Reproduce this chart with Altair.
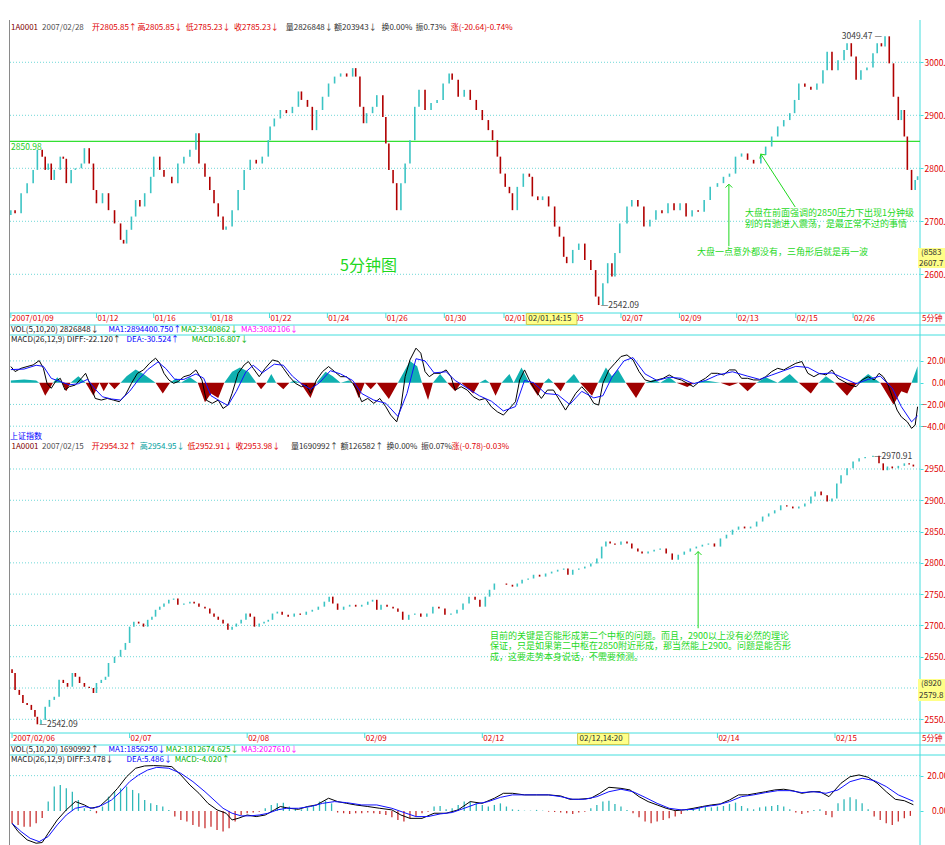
import altair as alt
import pandas as pd

# ================= values =================
# t = time index (left -> right), one common unit for every panel
top_t = [18,25,35,45,55,62,70,75,80,85,90,100,105,110,118,125,135,140,148,155,
         160,170,180,190,200,205,210,218,225,232,240,250,255,265,272,285,295,305,315,325,
         330,340,348,355,362,370,375,385,395,405,415,425,435,445,448,455,465,475,485,495,
         500,510,518,525,535,545,555,565,575,585,590,597,603,608,618,625,635,640,645,652,
         658,665,672,680,688,695,705,715,725,735,745,750,760,770,780,790,800,810,817,825,
         830,838,845,850,858,868,878,883,892,900,910,920,928,935,940,950,960,970,980,988,
         993,1000,1008,1015,1020,1028,1040,1048,1058,1068,1078,1088,1098,1108,1118,1128,1138,1148,1158,1168,
         1178,1190,1200,1210,1220,1230,1240,1250,1262,1270,1280,1290,1300,1310,1318,1325,1335,1345,1355,1365,
         1372,1380,1390,1400,1405,1412,1420,1428,1438,1448,1455,1462,1468,1475,1482,1490,1495,1500,1505,1512,
         1518,1522]
top_close = [2721,2715,2753,2772,2797,2835,2822,2797,2809,2778,2797,2822,2818,2772,2797,2800,2809,2838,2809,2759,
             2734,2753,2721,2696,2665,2658,2684,2709,2740,2728,2753,2784,2822,2797,2784,2772,2809,2822,2835,2866,
             2809,2784,2759,2734,2709,2684,2690,2721,2759,2797,2816,2809,2822,2853,2879,2894,2910,2904,2916,2945,
             2929,2916,2872,2910,2935,2960,2973,2979,2973,2989,2973,2916,2885,2904,2916,2938,2897,2847,2797,2772,
             2721,2772,2809,2853,2916,2948,2910,2923,2929,2960,2979,2967,2935,2948,2929,2910,2891,2872,2853,2822,
             2790,2765,2753,2721,2765,2790,2784,2747,2740,2747,2728,2690,2671,2633,2621,2646,2658,2627,2608,2558,
             2542,2583,2621,2596,2640,2696,2728,2740,2728,2690,2703,2721,2715,2734,2721,2734,2709,2721,2718,2740,
             2765,2772,2784,2790,2822,2828,2816,2809,2825,2841,2860,2879,2891,2904,2929,2960,2954,2948,2960,2985,
             3020,2985,3004,3023,3036,3011,2967,2985,2990,3017,3036,3030,3049,2998,2935,2891,2910,2860,2797,2759,
             2778,2785]
top_first_open = 2712

bot_t = [20,25,32,38,45,52,58,62,68,75,82,90,98,105,112,120,125,132,140,148,
         155,160,168,175,180,190,200,208,215,222,230,238,245,252,258,265,272,280,288,295,
         305,315,322,330,340,348,355,362,370,378,385,392,400,408,415,422,430,438,445,452,
         460,468,478,488,498,508,518,528,538,546,552,560,570,580,590,600,610,618,625,632,
         642,652,660,668,678,688,698,708,718,728,738,748,758,768,778,788,796,805,812,820,
         830,840,850,858,866,876,885,895,905,915,925,935,942,950,960,970,980,990,998,1005,
         1012,1020,1030,1040,1048,1058,1065,1075,1085,1095,1105,1115,1125,1135,1145,1155,1165,1175,1185,1195,
         1205,1215,1225,1235,1245,1255,1265,1275,1285,1295,1305,1315,1325,1335,1345,1352,1362,1372,1380,1388,
         1395,1405,1415,1425,1435,1448,1458,1465,1472,1480,1490,1500,1508,1515]
bot_close = [2624,2597,2589,2576,2573,2565,2554,2542,2549,2570,2581,2586,2613,2608,2602,2624,2618,2608,2602,2600,
             2592,2608,2613,2618,2640,2650,2661,2672,2698,2706,2703,2698,2709,2714,2725,2730,2735,2741,2743,2733,
             2735,2738,2735,2730,2727,2719,2714,2709,2703,2693,2698,2703,2709,2719,2714,2698,2703,2706,2709,2719,
             2722,2717,2714,2719,2717,2722,2725,2730,2738,2746,2735,2725,2730,2733,2730,2733,2738,2741,2725,2733,
             2730,2727,2722,2709,2717,2719,2714,2719,2730,2727,2717,2719,2725,2735,2746,2741,2730,2746,2757,2767,
             2767,2765,2762,2767,2773,2775,2781,2778,2783,2786,2789,2791,2781,2789,2791,2794,2799,2807,2826,2834,
             2831,2829,2834,2831,2823,2818,2815,2818,2821,2823,2815,2805,2813,2818,2823,2826,2829,2831,2826,2839,
             2845,2853,2858,2855,2858,2866,2874,2879,2884,2892,2890,2887,2890,2895,2906,2914,2908,2898,2903,2927,
             2940,2951,2962,2967,2969,2971,2959,2948,2954,2951,2955,2959,2957,2954]
bot_first_open = 2630

m1_diff_t = [18,25,35,45,55,65,72,78,85,92,100,108,115,125,135,142,150,158,168,178,
             188,198,208,218,228,238,248,258,265,272,280,288,295,305,315,325,335,342,352,362,
             370,378,385,395,405,412,420,430,440,452,462,470,480,490,500,508,515,525,535,545,
             555,565,575,585,592,600,610,620,630,640,648,658,665,672,680,690,698,705,712,720,
             730,740,748,755,765,775,785,795,805,815,825,835,845,855,862,870,878,888,898,908,
             918,928,938,945,955,965,975,985,993,1000,1010,1020,1030,1040,1050,1060,1070,1080,1090,1100,
             1110,1120,1130,1140,1150,1160,1170,1180,1190,1200,1210,1220,1230,1240,1250,1260,1270,1280,1290,1300,
             1310,1320,1330,1340,1350,1360,1370,1380,1390,1400,1410,1420,1430,1440,1450,1458,1465,1472,1480,1488,
             1495,1505,1512,1518,1522]
m1_diff = [14.8,10.2,13.2,14.8,16.3,20.3,13.2,-0.6,-5.2,0.9,4,-6.8,-3.7,-2.2,4,8.6,-2.2,-14.5,-16,-14.5,
           -16,-17.5,-11.4,-0.6,8.6,11.7,17.8,22.5,17.8,8.6,2.5,-0.6,0.9,5.5,7.1,11.7,2.5,-16,-19,-16,
           -23.7,-20.6,-9.8,8.6,16.3,19.4,13.2,5.5,13.2,20.9,19.4,13.2,5.5,-0.6,-3.7,-2.2,-9.8,2.5,10.2,14.8,
           10.2,5.5,5.5,-0.6,-6.8,-17.5,-14.5,-19,-14.5,-22.2,-29.8,-36,-22.2,5.5,20.9,31.7,27.1,10.2,5.5,8.6,
           8.6,11.7,5.5,-6.8,-3.7,-6.8,-12.9,-16,-14.5,-22.2,-26.8,-29.8,-23.7,-17.5,2.5,11.7,2.5,-6.8,-14.5,-6.8,
           -6.8,-16,-25.2,-19,-9.8,-3.7,-9.8,-19,-20.6,-0.6,11.7,17.8,24,25.5,20.9,10.2,2.5,0.9,2.5,4,
           7.1,4,2.5,-0.6,-3.7,0.9,4,8.6,8.6,7.1,11.7,11.7,4,4,2.5,2.5,5.5,10.2,13.2,11.7,
           14.8,17.8,19.4,8.6,5.5,8.6,7.1,11.7,4,0.9,-2.2,-3.7,2.5,5.5,2.5,8.6,5.5,-0.6,-12.9,-25.2,
           -31.4,-36,-42,-39,-22.1]
m1_dea_t = [18,40,60,72,85,100,115,130,145,158,170,185,200,215,230,245,262,275,290,305,
            325,338,350,365,378,392,408,420,435,455,470,485,500,515,530,548,565,585,600,620,
            640,660,675,690,705,720,740,755,775,795,815,835,855,870,885,905,925,945,965,985,
            1000,1015,1035,1050,1070,1090,1110,1130,1150,1170,1190,1215,1240,1260,1280,1300,1320,1340,1360,1380,
            1400,1420,1440,1460,1480,1495,1512,1522]
m1_dea = [12,12.5,16,15,4,1,-2,-1,3,-6,-13,-15,-16,-8,3,12,19,13,3,3,
          8,4,-12,-17,-21,-8,10,16,9,17,16,6,-1,-6,0,11,8,2,-10,-16,
          -19,-31,-10,22,20,9,10,2,-5,-12,-17,-26,-22,2,0,-10,-11,-20,-8,-14,
          -12,5,20,23,8,2,5,4,-1,2,7,10,6,3,7,11,15,14,8,9,
          4,-1,3,6,-5,-22,-36,-30.5]
m1_hist_t = [18,40,60,65,75,88,95,103,110,117,130,142,155,165,172,180,190,200,210,225,
             238,258,270,282,292,300,315,328,340,350,362,372,385,398,412,425,433,442,450,458,
             470,480,488,498,515,525,540,552,565,578,585,595,605,615,625,645,660,680,692,700,
             710,718,730,742,755,765,785,795,805,812,822,832,845,852,865,878,892,902,910,918,
             930,938,952,962,982,992,1005,1015,1025,1038,1055,1070,1085,1095,1110,1122,1140,1152,1170,1195,
             1210,1225,1240,1255,1270,1290,1310,1325,1345,1358,1370,1385,1405,1422,1440,1460,1482,1495,1505,1512,
             1522]
m1_hist = [2,3,2,0,-12,0,5,0,-8,0,6,0,-12,0,-8,0,-6,0,6,12,
           8,0,-10,0,4,0,5,0,-18,-10,-14,0,10,14,10,0,-6,0,8,0,
           -6,0,2,0,-14,0,10,6,0,2,0,-14,0,-6,0,-15,0,20,15,0,
           -16,0,8,0,-8,0,-10,0,3,0,-12,0,8,0,14,0,-12,0,4,0,
           -8,0,8,0,-12,0,14,6,12,0,-14,0,3,0,5,0,-4,0,2,0,
           -3,0,-8,0,5,0,8,0,-10,0,6,0,-12,0,8,0,-20,-8,-10,0,
           15]

m2_diff_t = [20,30,45,60,70,80,95,110,125,140,150,165,180,195,210,225,240,255,270,285,
             300,315,330,345,360,375,385,395,410,425,440,455,465,480,495,510,525,545,560,575,
             590,610,630,650,665,680,700,720,740,760,780,800,820,835,850,870,890,910,930,945,
             960,980,995,1010,1030,1045,1060,1075,1090,1105,1120,1135,1150,1165,1180,1195,1210,1225,1240,1255,
             1270,1285,1300,1315,1330,1345,1360,1375,1385,1395,1410,1425,1440,1455,1470,1485,1500,1515]
m2_diff = [-7,-11.7,-16.4,-18.3,-17.9,-12.6,-5.1,0.6,5.3,3.4,1.5,2.5,7.2,12.8,19.4,24.2,25.5,25.7,25.5,25.1,
           20.4,14.7,10,4.3,0.6,-1.3,-5.1,-4.2,-2.3,-3.2,-2.3,0.6,2.5,1.5,0.9,2.5,3.4,7.2,5.3,4.3,
           3.4,2.5,1.5,0.6,-2.3,-4.2,-4.2,-1.3,-1.3,0.6,5.3,4.3,7.2,10,10,9.1,9.1,9.1,8.5,6.6,
           6.6,7.2,10,13.4,12.8,11.9,8.1,5.3,3.4,1.5,0.2,0.6,1.5,2.5,3.4,4,6.2,9.1,9.1,10,
           10.9,11.9,12.3,11.5,10,10.9,10.9,8.1,11.9,15.7,19.4,20.4,19.1,15.7,10.9,6.6,5.8,3.5]
m2_dea_t = [20,35,50,65,80,95,110,125,140,155,170,185,200,215,230,245,260,280,300,320,
            340,355,370,385,400,415,430,445,460,475,495,515,535,555,575,600,625,650,670,690,
            710,730,750,770,790,810,830,850,870,890,910,930,950,970,990,1010,1030,1050,1070,1090,
            1110,1130,1150,1170,1190,1210,1230,1250,1270,1290,1310,1330,1350,1370,1390,1410,1430,1450,1470,1490,
            1515]
m2_dea = [-7,-11.7,-15.5,-17.4,-14.5,-7.9,-2.3,1.5,2.5,1.5,3.4,6.2,10.9,16.6,20.4,23.2,24.7,24.2,21.3,16.6,
          10.9,6.2,1.5,-1.3,-2.8,-2.8,-2.3,-1.3,0.6,1.5,1.5,2.5,4.3,5.3,4.7,3.4,3.4,1.5,-0.9,-3.2,
          -3.2,-1.7,-0.9,1.5,4,5.3,7.7,9.1,9.1,9.1,9.1,8.1,6.6,6.6,8.1,10.9,12.3,10.9,7.7,4.3,
          1.5,0.6,0.9,2.5,3.4,5.3,8.1,9.1,10.4,11.5,11.5,10.4,10.9,10,11.9,16.6,18.5,17.2,13.8,9.1,
          5.5]
m2_hist_t = list(range(20, 1520, 10))
m2_hist = [-7,-8,-9,-9,-7,-4,5.3,13.8,14.7,12.8,10.9,6.2,1.5,0.6,-1.3,2.5,8.1,10.9,12.8,13.8,
           11.9,10,6.2,4.3,3.4,2.5,0.6,-3.2,-5.1,-6,-7.9,-8.9,-9.8,-8.9,-10.8,-11.7,-9.8,-6,-2.3,-1.3,
           -0.9,-0.4,1.5,3.4,4.3,4.7,2.5,1.5,0.9,2,3.4,5.3,5.8,4.3,-0.9,-1.3,-1.7,-1.3,-1.3,-0.9,
           -1.3,-1.7,-2.3,-3.6,-5.1,-6,-4.2,-2.8,-1.3,-0.4,2.5,2.8,0.9,1.5,3.4,5.3,5.3,4.3,3.4,2.5,
           3.4,4.3,2.5,0.9,0.6,0.2,0.2,0.6,0.2,-0.4,-0.6,-0.9,-1.3,-1.7,-0.9,-0.4,1.5,3.4,5.3,5.8,
           4,2.5,0.6,-1.3,-3.6,-6,-7,-6,-5.1,-4.2,-3.2,-1.7,0.9,1.5,2,2.5,2,2.5,2.8,4,
           4.7,2.8,1.5,0.9,2,2.5,2.8,3.4,2.5,0.9,-0.9,-1.7,-0.9,0.6,0.9,-2.3,-3.6,4.3,6.6,7.7,
           6.6,4.3,0.9,-3.2,-5.1,-7,-7.9,-6,-4.2,-2.8]

top_dates_t = [18,160,255,350,447,543,640,737,836,932,1030,1127,1222,1320,1415]
top_dates = ["2007/01/09","01/12","01/16","01/18","01/22","01/24","01/26","01/30",
             "02/01","02/05","02/07","02/09","02/13","02/15","02/26"]
bot_dates_t = [20,215,410,605,800,1190,1385]
bot_dates = ["2007/02/06","02/07","02/08","02/09","02/12","02/14","02/15"]

top_ticks = [2600, 2700, 2800, 2900, 3000]
bot_ticks = [2550, 2600, 2650, 2700, 2750, 2800, 2850, 2900, 2950]
bot_labels = [2550, 2650, 2700, 2750, 2800, 2850, 2900, 2950]   # 2600 hidden by value box
m1_ticks = [20, 0, -20, -40]
m2_ticks = [20, 0, -20]
m1_grid = [20, -20, -40]
m2_grid = [20]
pressure_level = 2850.98

# ================= styling / layout =================
FONT = "Noto Sans CJK SC"
RED = "#e00000"
CYAN = "#45dede"
GRID = "#70d8d8"
UP = "#3cc4c4"
DN = "#b00000"
GREEN = "#1ed81e"
DARK = "#303030"

XS = alt.Scale(domain=[16.6, 1526], range=[10, 920], nice=False, zero=False)
Y1 = alt.Scale(domain=[2527, 3079.8], range=[313, 20], nice=False, zero=False)
Y2 = alt.Scale(domain=[-43.5, 43.8], range=[430, 335], nice=False, zero=False)
Y3 = alt.Scale(domain=[2528.1, 3012.3], range=[733, 430], nice=False, zero=False)
Y4 = alt.Scale(domain=[-19.3, 31.7], range=[845, 755], nice=False, zero=False)

one = pd.DataFrame({"k": [0]})


def price_axis(vals):
    return alt.Axis(orient="right", values=vals, format=".2f", title=None, grid=False,
                    domain=False, ticks=True, tickSize=3, tickColor=CYAN,
                    labelColor=RED, labelFont=FONT, labelFontSize=8.5, labelAlign="left",
                    labelBaseline="middle", labelPadding=1, labelOverlap=False, labelFlush=False)


def macd_axis(vals):
    return alt.Axis(orient="right", values=vals, format=".2f", title=None, grid=False,
                    domain=False, ticks=True, tickSize=3, tickColor=CYAN,
                    labelColor=RED, labelFont=FONT, labelFontSize=8.5, labelAlign="right",
                    labelBaseline="middle", labelPadding=25, labelOverlap=False, labelFlush=False)


def prule(x1, y1, x2, y2, color, sw=1.0, dash=None):
    kw = dict(color=color, strokeWidth=sw)
    if dash:
        kw["strokeDash"] = dash
    return alt.Chart(one).mark_rule(**kw).encode(
        x=alt.value(x1), y=alt.value(y1), x2=alt.value(x2), y2=alt.value(y2))


def grid(vals, ys):
    return alt.Chart(pd.DataFrame({"v": vals})).mark_rule(
        color=GRID, strokeDash=[1, 2], strokeWidth=1).encode(
        y=alt.Y("v:Q", scale=ys, axis=None), x=alt.value(10), x2=alt.value(920))


def texts(rows, size=8, align="left", baseline="middle"):
    df = pd.DataFrame(rows, columns=["txt", "px", "py", "col"])
    return alt.Chart(df).mark_text(align=align, baseline=baseline, font=FONT, fontSize=size).encode(
        x=alt.X("px:Q", scale=None, axis=None), y=alt.Y("py:Q", scale=None, axis=None),
        text="txt:N", color=alt.Color("col:N", scale=None))


def candles(t, close, first_open, ys, ticks):
    df = pd.DataFrame({"t": t, "o": [first_open] + close[:-1], "c": close})
    return alt.Chart(df).mark_rule(strokeWidth=1.6).encode(
        x=alt.X("t:Q", scale=XS, axis=None),
        y=alt.Y("o:Q", scale=ys, axis=price_axis(ticks)),
        y2="c:Q",
        color=alt.condition("datum.c >= datum.o", alt.value(UP), alt.value(DN)))


def line(t, v, ys, color, axis=None):
    df = pd.DataFrame({"t": t, "v": v})
    return alt.Chart(df).mark_line(color=color, strokeWidth=1).encode(
        x=alt.X("t:Q", scale=XS, axis=None),
        y=alt.Y("v:Q", scale=ys, axis=axis))


def dates(t, labels, ypix):
    df = pd.DataFrame({"t": t, "lab": labels})
    ticks = alt.Chart(df).mark_rule(color=CYAN).encode(
        x=alt.X("t:Q", scale=XS, axis=None), y=alt.value(ypix - 6), y2=alt.value(ypix - 1))
    labs = alt.Chart(df).mark_text(align="left", baseline="middle", dx=1, font=FONT,
                                   fontSize=8, color=RED).encode(
        x=alt.X("t:Q", scale=XS, axis=None), y=alt.value(ypix), text="lab:N")
    return [ticks, labs]


def highlight(t1, t2, label, ytop, ybot):
    df = pd.DataFrame({"t1": [t1], "t2": [t2], "lab": [label]})
    box = alt.Chart(df).mark_rect(fill="#ffff88", stroke="#c8c850", strokeWidth=1).encode(
        x=alt.X("t1:Q", scale=XS, axis=None), x2="t2:Q", y=alt.value(ytop), y2=alt.value(ybot))
    txt = alt.Chart(df).mark_text(align="left", baseline="middle", dx=2, font=FONT,
                                  fontSize=8, color=DARK).encode(
        x=alt.X("t1:Q", scale=XS, axis=None), y=alt.value((ytop + ybot) / 2), text="lab:N")
    return [box, txt]


def extreme(t, p, label, ys, align, dx):
    df = pd.DataFrame({"t": [t], "p": [p], "lab": [label]})
    return alt.Chart(df).mark_text(align=align, baseline="middle", dx=dx, font=FONT,
                                   fontSize=8.5, color="#404040").encode(
        x=alt.X("t:Q", scale=XS, axis=None), y=alt.Y("p:Q", scale=ys, axis=None), text="lab:N")


def arrow(t1, p1, t2, p2, ys, angle):
    df = pd.DataFrame({"t1": [t1], "p1": [p1], "t2": [t2], "p2": [p2]})
    shaft = alt.Chart(df).mark_rule(color=GREEN, strokeWidth=1).encode(
        x=alt.X("t1:Q", scale=XS, axis=None), y=alt.Y("p1:Q", scale=ys, axis=None),
        x2="t2:Q", y2="p2:Q")
    head = alt.Chart(df).mark_point(shape="M-1,1L0,0L1,1", filled=False, size=45,
                                    strokeWidth=1, color=GREEN, angle=angle, opacity=1).encode(
        x=alt.X("t1:Q", scale=XS, axis=None), y=alt.Y("p1:Q", scale=ys, axis=None))
    return [shaft, head]


def hist_area(t, v, ys, pos_color, neg_color):
    df = pd.DataFrame({"t": t, "v": v})
    base = alt.Chart(df).transform_calculate(pos="max(datum.v, 0)", neg="min(datum.v, 0)")
    pos = base.mark_area(color=pos_color, opacity=1).encode(
        x=alt.X("t:Q", scale=XS, axis=None), y=alt.Y("pos:Q", scale=ys, axis=None), y2=alt.datum(0))
    neg = base.mark_area(color=neg_color, opacity=1).encode(
        x=alt.X("t:Q", scale=XS, axis=None), y=alt.Y("neg:Q", scale=ys, axis=None), y2=alt.datum(0))
    return [pos, neg]


def hist_bars(t, v, ys, pos_color, neg_color):
    df = pd.DataFrame({"t": t, "v": v})
    return alt.Chart(df).mark_rule(strokeWidth=1.3).encode(
        x=alt.X("t:Q", scale=XS, axis=None), y=alt.Y("v:Q", scale=ys, axis=None), y2=alt.datum(0),
        color=alt.condition("datum.v >= 0", alt.value(pos_color), alt.value(neg_color)))


layers = []
# grids
layers += [grid(top_ticks, Y1), grid(m1_grid, Y2), grid(bot_ticks, Y3), grid(m2_grid, Y4)]
# frame lines
for yy in [313, 325, 335, 733, 745, 755]:
    layers.append(prule(9, yy, 945, yy, CYAN))
layers.append(prule(920, 20, 920, 845, CYAN))
layers.append(prule(9.5, 20, 9.5, 845, "#8a8a8a"))

# panel 1 : 5-minute price
lvl = pd.DataFrame({"v": [pressure_level], "lab": [f"{pressure_level:.2f}"]})
layers.append(alt.Chart(lvl).mark_rule(color="#33e033", strokeWidth=1.2).encode(
    y=alt.Y("v:Q", scale=Y1, axis=None), x=alt.value(10), x2=alt.value(920)))
layers.append(alt.Chart(lvl).mark_text(align="left", baseline="middle", dx=0, dy=6, font=FONT,
                                       fontSize=8.5, color="#22cc22").encode(
    y=alt.Y("v:Q", scale=Y1, axis=None), x=alt.value(11), text="lab:N"))
layers.append(candles(top_t, top_close, top_first_open, Y1, top_ticks))
layers.append(extreme(1468, 3049.47, "3049.47 —", Y1, "right", -3))
layers.append(extreme(993, 2542.09, "—2542.09", Y1, "left", 2))
layers += arrow(1209, 2770, 1209, 2653, Y1, 0)
layers += arrow(1262, 2827, 1319, 2727, Y1, 327)

# panel 2 : MACD of panel 1
layers += hist_area(m1_hist_t, m1_hist, Y2, "#10b0b0", "#a00000")
layers.append(line(m1_diff_t, m1_diff, Y2, "#000000", macd_axis(m1_ticks)))
layers.append(line(m1_dea_t, m1_dea, Y2, "#1010ff"))

# panel 3 : index price
layers.append(candles(bot_t, bot_close, bot_first_open, Y3, bot_labels))
layers.append(extreme(1448, 2970.91, "—2970.91", Y3, "left", 1))
layers.append(extreme(62, 2542.09, "—2542.09", Y3, "left", 2))
layers += arrow(1158, 2818, 1158, 2695.5, Y3, 0)

# panel 4 : MACD of panel 3
layers.append(hist_bars(m2_hist_t, m2_hist, Y4, "#30b8b8", "#c83030"))
layers.append(line(m2_diff_t, m2_diff, Y4, "#000000", macd_axis(m2_ticks)))
layers.append(line(m2_dea_t, m2_dea, Y4, "#1010ff"))

# date rows
layers += dates(top_dates_t, top_dates, 319)
layers += dates(bot_dates_t, bot_dates, 739)
layers += highlight(873, 957, "02/01,14:15", 313.5, 324.5)
layers += highlight(958, 1043, "02/12,14:20", 733.5, 744.5)

# right-hand value boxes
layers.append(prule(918, 258, 945, 258, "#ffff88", sw=20))
layers.append(prule(918, 690, 945, 690, "#ffff88", sw=22))

header_rows = [
    ("1A0001", 11, 28, "#800000"), ("2007/02/28", 42, 28, "#505050"),
    ("开2805.85↑", 92, 28, RED), ("高2805.85↓", 137.5, 28, RED),
    ("低2785.23↓", 185.7, 28, RED), ("收2785.23↓", 234, 28, RED),
    ("量2826848↓", 285.7, 28, DARK), ("额203943↓", 334, 28, DARK),
    ("换0.00%", 381.4, 28, DARK), ("振0.73%", 415.4, 28, DARK),
    ("涨(-20.64)-0.74%", 450.7, 28, RED),
    ("VOL(5,10,20) 2826848↓", 11, 330, "#202020"), ("MA1:2894400.750↑", 108.5, 330, "#0000ff"),
    ("MA2:3340862↓", 181, 330, "#00b000"), ("MA3:3082106↓", 241, 330, "#ff00ff"),
    ("MACD(26,12,9) DIFF:-22.120↑", 11, 340, "#202020"), ("DEA:-30.524↑", 126.6, 340, "#0000ff"),
    ("MACD:16.807↓", 191.7, 340, "#00b000"),
    ("上证指数", 10, 437, "#0000ff"),
    ("1A0001", 11.5, 447, "#800000"), ("2007/02/15", 42, 447, "#505050"),
    ("开2954.32↑", 91.8, 447, RED), ("高2954.95↓", 139.7, 447, "#00a0a0"),
    ("低2952.91↓", 187.5, 447, RED), ("收2953.98↓", 235.4, 447, RED),
    ("量1690992↑", 290.9, 447, DARK), ("额126582↑", 340.6, 447, DARK),
    ("换0.00%", 386.5, 447, DARK), ("振0.07%", 421, 447, DARK),
    ("涨(-0.78)-0.03%", 451.6, 447, RED),
    ("VOL(5,10,20) 1690992↑", 11, 750, "#202020"), ("MA1:1856250↓", 108.5, 750, "#0000ff"),
    ("MA2:1812674.625↓", 165.8, 750, "#00b000"), ("MA3:2027610↓", 241, 750, "#ff00ff"),
    ("MACD(26,12,9) DIFF:3.478↓", 11, 760, "#202020"), ("DEA:5.486↓", 126.6, 760, "#0000ff"),
    ("MACD:-4.020↑", 174.8, 760, "#00b000"),
    ("5分钟", 922, 319, RED), ("5分钟", 922, 739, RED),
    ("(8583", 921, 253, DARK), ("2607.7", 919, 264, DARK),
    ("(8920", 921, 684, DARK), ("2579.8", 919, 696, DARK),
]
layers.append(texts(header_rows))

note_rows = [
    ("大盘在前面强调的2850压力下出现1分钟级", 745, 213, GREEN),
    ("别的背驰进入震荡，是最正常不过的事情", 745, 223.5, GREEN),
    ("大盘一点意外都没有，三角形后就是再一波", 697, 252, GREEN),
    ("目前的关键是否能形成第二个中枢的问题。而且，2900以上没有必然的理论", 490, 635.5, GREEN),
    ("保证，只是如果第二中枢在2850附近形成，那当然能上2900。问题是能否形", 490, 646, GREEN),
    ("成，这要走势本身说话，不需要预测。", 490, 656.5, GREEN),
]
layers.append(texts(note_rows, size=9))
layers.append(texts([("5分钟图", 340, 266, GREEN)], size=16))

chart = alt.layer(*layers).resolve_scale(x="independent", y="independent").properties(
    width=920, height=845,
    autosize=alt.AutoSizeParams(type="none"),
    padding={"left": 0, "top": 0, "right": 25, "bottom": 0},
    background="white",
).configure_view(stroke=None)

chart.save("out.html", embed_options={"renderer": "svg", "actions": False})
